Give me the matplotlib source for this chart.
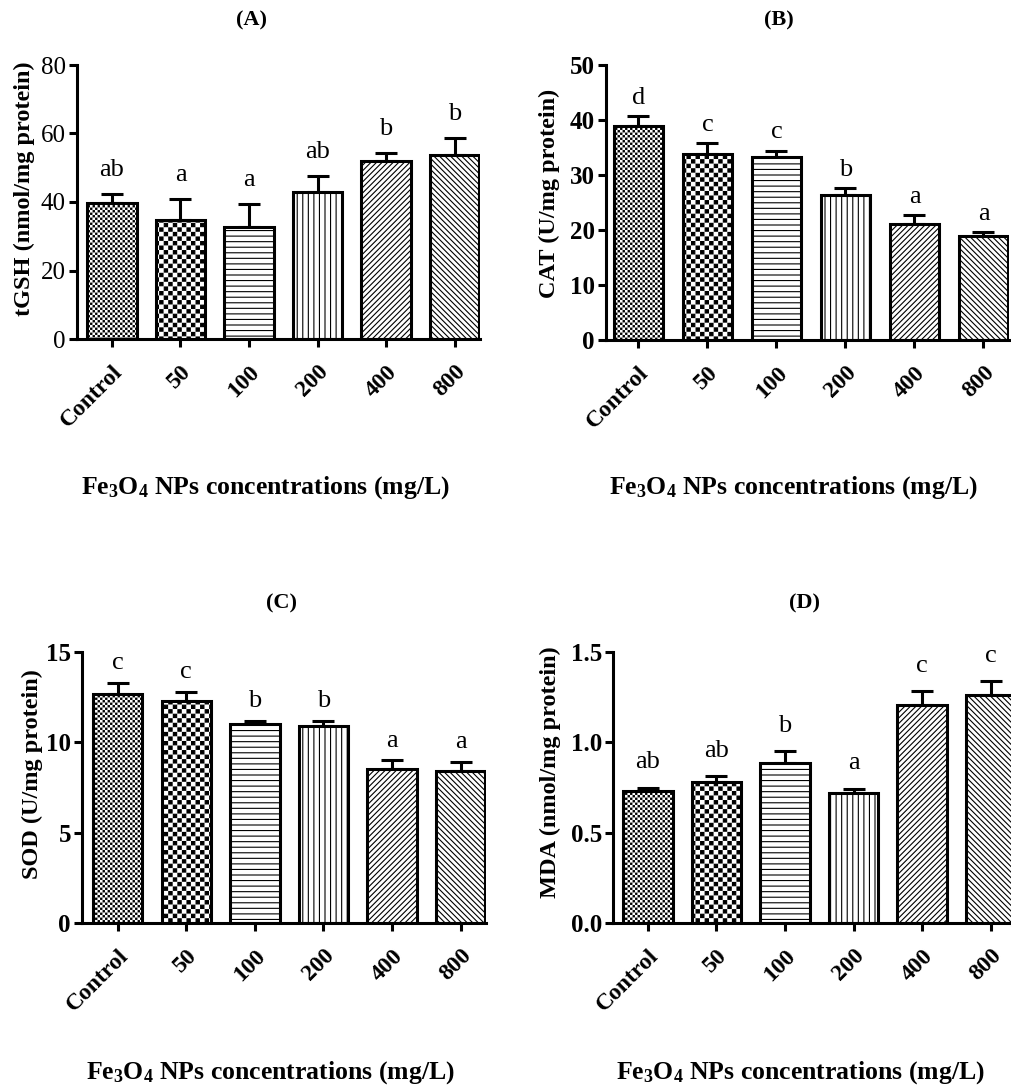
import numpy as np
import matplotlib
matplotlib.use('Agg')
import matplotlib.pyplot as plt
from matplotlib import hatch as mhatch
from matplotlib.path import Path

# data
groups = ['Control', '50', '100', '200', '400', '800']

tgsh_mean = [39.7, 34.7, 32.7, 42.9, 52.0, 53.7]
tgsh_err = [2.6, 6.2, 6.7, 4.7, 2.3, 5.0]
tgsh_letters = ['ab', 'a', 'a', 'ab', 'b', 'b']

cat_mean = [38.9, 33.8, 33.3, 26.4, 21.1, 18.9]
cat_err = [1.8, 2.0, 1.1, 1.2, 1.6, 0.7]
cat_letters = ['d', 'c', 'c', 'b', 'a', 'a']

sod_mean = [12.7, 12.3, 11.0, 10.9, 8.5, 8.4]
sod_err = [0.6, 0.5, 0.2, 0.3, 0.5, 0.5]
sod_letters = ['c', 'c', 'b', 'b', 'a', 'a']

mda_mean = [0.728, 0.783, 0.883, 0.722, 1.205, 1.261]
mda_err = [0.022, 0.028, 0.067, 0.022, 0.078, 0.078]
mda_letters = ['ab', 'ab', 'b', 'a', 'c', 'c']

plt.rcParams['font.family'] = 'Liberation Serif'
plt.rcParams['mathtext.fontset'] = 'custom'
plt.rcParams['mathtext.rm'] = 'Liberation Serif:bold'
plt.rcParams['mathtext.bf'] = 'Liberation Serif:bold'
plt.rcParams['mathtext.it'] = 'Liberation Serif:bold:italic'
plt.rcParams['hatch.linewidth'] = 0.8
plt.rcParams['hatch.color'] = 'black'


# checkerboard hatches ('o' fine, 'O' coarse) in place of the circle ones
class FineChecker(mhatch.HatchPatternBase):
    filled = True
    char = 'o'
    cells = 40

    def __init__(self, hatch, density):
        self.n = self.cells if self.char in hatch else 0
        self.num_vertices = (self.n * self.n // 2) * 5

    def set_vertices_and_codes(self, vertices, codes):
        n = self.n
        s = 1.0 / n
        g = 0.45 / 72
        k = 0
        for i in range(n):
            for j in range(n):
                if (i + j) % 2:
                    continue
                x0, y0 = i * s + g, j * s + g
                x1, y1 = (i + 1) * s - g, (j + 1) * s - g
                vertices[k:k + 5] = [(x0, y0), (x1, y0), (x1, y1), (x0, y1), (x0, y0)]
                codes[k:k + 5] = [Path.MOVETO, Path.LINETO, Path.LINETO,
                                  Path.LINETO, Path.CLOSEPOLY]
                k += 5


class CoarseChecker(FineChecker):
    char = 'O'
    cells = 22


mhatch._hatch_types = [mhatch.HorizontalHatch, mhatch.VerticalHatch,
                       mhatch.NorthEastHatch, mhatch.SouthEastHatch,
                       FineChecker, CoarseChecker]

hatches = ['o', 'O', '---', '|||', '//////', '\\\\\\\\\\\\']

W, H = 1012, 1088
fig = plt.figure(figsize=(W / 100, H / 100), dpi=100)
fig.patch.set_facecolor('white')


def rect(left, top, right, bottom):
    return [left / W, 1 - bottom / H, (right - left) / W, (bottom - top) / H]


def panel(r, xlim, mean, err, letters, ylabel, yticks, fmt, ybold, lab_x, lab_y, off):
    ax = fig.add_axes(r)
    x = np.arange(len(groups))
    bars = ax.bar(x, mean, width=0.72, color='white', edgecolor='black',
                  linewidth=2.2, zorder=2)
    for b, h in zip(bars, hatches):
        b.set_hatch(h)
    ax.errorbar(x, mean, yerr=[np.zeros(len(err)), err], fmt='none',
                ecolor='black', elinewidth=2.2, capsize=8, capthick=2.2, zorder=1)
    for xi, m, e, t in zip(x, mean, err, letters):
        ax.annotate(t, (xi, m + e), xytext=(0, off), textcoords='offset points',
                    ha='center', va='baseline', fontsize=19)
    ax.set_xlim(*xlim)
    ax.set_ylim(yticks[0], yticks[-1])
    ax.set_yticks(yticks)
    ax.set_yticklabels([fmt % v for v in yticks], fontsize=18,
                       fontweight='bold' if ybold else 'normal')
    ax.set_xticks(x)
    ax.set_xticklabels(groups, rotation=45, ha='right', va='top',
                       rotation_mode='anchor', fontsize=17, fontweight='bold')
    for s in ['top', 'right']:
        ax.spines[s].set_visible(False)
    for s in ['left', 'bottom']:
        ax.spines[s].set_linewidth(2.2)
    ax.tick_params(width=2.2, length=6, pad=2)
    ax.tick_params(axis='x', pad=10)
    ax.set_ylabel(ylabel, fontsize=17.5, fontweight='bold')
    ax.yaxis.set_label_coords(lab_x, lab_y)
    return ax


panel(rect(77, 65, 480, 339), (-0.51, 5.37), tgsh_mean, tgsh_err, tgsh_letters,
      'tGSH (nmol/mg protein)', [0, 20, 40, 60, 80], '%d', False, -0.104, 0.547, 13)
panel(rect(606, 65, 1009, 340), (-0.47, 5.37), cat_mean, cat_err, cat_letters,
      'CAT (U/mg protein)', [0, 10, 20, 30, 40, 50], '%d', True, -0.114, 0.535, 9)
panel(rect(82, 652, 486, 923), (-0.52, 5.37), sod_mean, sod_err, sod_letters,
      'SOD (U/mg protein)', [0, 5, 10, 15], '%d', True, -0.097, 0.55, 10)
panel(rect(613, 652, 1016, 923), (-0.51, 5.37), mda_mean, mda_err, mda_letters,
      'MDA (nmol/mg protein)', [0.0, 0.5, 1.0, 1.5], '%.1f', True, -0.13, 0.557, 14)

xlab = r'Fe$_3$O$_4$ NPs concentrations (mg/L)'
for t, (tx, ty), (lx, ly) in zip(['(A)', '(B)', '(C)', '(D)'],
                                 [(252, 20), (779, 20), (282, 603), (805, 603)],
                                 [(265, 488), (793, 488), (270, 1073), (800, 1073)]):
    fig.text(tx / W, 1 - ty / H, t, ha='center', va='center', fontsize=16, fontweight='bold')
    fig.text(lx / W, 1 - ly / H, xlab, ha='center', va='center', fontsize=18.5, fontweight='bold')

fig.savefig('out.png', dpi=100)
